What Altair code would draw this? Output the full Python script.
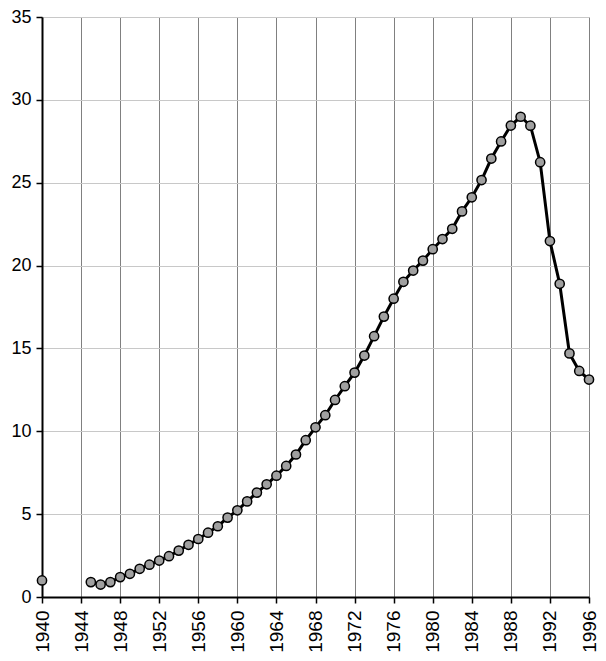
import altair as alt
import pandas as pd

years = [1940] + list(range(1945, 1997))
values = [1.0,
          0.9, 0.75, 0.9, 1.2, 1.4, 1.7, 1.95, 2.2, 2.46, 2.8,
          3.15, 3.5, 3.88, 4.27, 4.79, 5.23, 5.77, 6.3, 6.8, 7.32,
          7.91, 8.6, 9.46, 10.24, 10.97, 11.89, 12.72, 13.54, 14.57, 15.74,
          16.92, 18.0, 19.02, 19.7, 20.3, 20.99, 21.6, 22.22, 23.27, 24.12,
          25.16, 26.46, 27.49, 28.45, 28.98, 28.44, 26.24, 21.48, 18.9, 14.7,
          13.64, 13.12]
x_ticks = list(range(1940, 1997, 4))
y_ticks = list(range(0, 36, 5))

df = pd.DataFrame({"year": years, "value": values})
line_df = df[df["year"] >= 1945]

x_enc = alt.X("year:Q", scale=alt.Scale(domain=[1940, 1996], nice=False, zero=False),
              axis=alt.Axis(values=x_ticks, format="d", labelAngle=270, labelAlign="right",
                            labelBaseline="middle", labelFontSize=19, labelColor="black",
                            labelFont="Liberation Sans", labelPadding=7,
                            tickSize=6, tickColor="black", tickWidth=1.5,
                            domainColor="black", domainWidth=2,
                            grid=True, gridColor="#808080", gridWidth=1,
                            title=None, labelOverlap=False, labelBound=False,
                            labelFlush=False))
y_enc = alt.Y("value:Q", scale=alt.Scale(domain=[0, 35], nice=False),
              axis=alt.Axis(values=y_ticks, labelFontSize=18, labelColor="black",
                            labelFont="Liberation Sans", labelPadding=5,
                            tickSize=6, tickColor="black", tickWidth=1.5,
                            domainColor="black", domainWidth=2,
                            grid=True, gridColor="#c8c8c8", gridWidth=1,
                            title=None, labelOverlap=False, labelFlush=False))

line = alt.Chart(line_df).mark_line(color="black", strokeWidth=3).encode(x=x_enc, y=y_enc)
pts = alt.Chart(df).mark_point(filled=True, fill="#a0a0a0", stroke="black", strokeWidth=1.5,
                               size=85, opacity=1, shape="circle").encode(x=x_enc, y=y_enc)

chart = (line + pts).properties(
    width=547, height=580,
    autosize=alt.AutoSizeParams(type="none"),
    padding={"left": 34, "top": 9, "right": 9, "bottom": 56},
).configure_view(stroke=None).configure(background="white")

chart.save("out.html", embed_options={"renderer": "svg", "actions": False})
